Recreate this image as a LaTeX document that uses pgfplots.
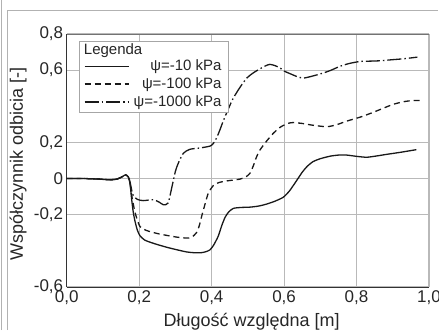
\documentclass[border=0pt]{standalone}
\usepackage{fontspec}
\setmainfont{Liberation Sans}
\usepackage{pgfplots}
\pgfplotsset{compat=1.18}
\newcommand{\lf}{\fontsize{15pt}{17pt}\selectfont}
\newcommand{\tf}{\fontsize{17pt}{20pt}\selectfont}
\newcommand{\af}{\fontsize{18pt}{21pt}\selectfont}
\begin{document}
\begin{tikzpicture}
\useasboundingbox (-66.7pt,-43pt) rectangle (372.3pt,287pt);
\draw[gray!60, line width=1pt] (-64.7pt,-43pt) -- (-64.7pt,287pt);
\draw[gray!60, line width=1pt] (-58.7pt,-43pt) -- (-58.7pt,276pt) -- (371.3pt,276pt);
\begin{axis}[
  scale only axis, width=362.3pt, height=253pt,
  xmin=0, xmax=1, ymin=-0.6, ymax=0.8,
  axis x line*=bottom, axis y line*=left,
  axis line style={line width=1pt, black!80},
  xtick={0,0.2,0.4,0.6,0.8,1},
  xticklabels={{\tf 0,0},{\tf 0,2},{\tf 0,4},{\tf 0,6},{\tf 0,8},{\tf 1,0}},
  ytick={-0.6,-0.2,0,0.2,0.6,0.8},
  yticklabels={{\tf -0,6},{\tf -0,2},{\tf 0},{\tf 0,2},{\tf 0,6},{\tf 0,8}},
  major tick length=0pt,
  grid=major, grid style={gray!55, line width=1.1pt},
  tick label style={font=\tf, text=black!85},
  xlabel={\af Długość względna [m]},
  ylabel={\af Współczynnik odbicia [-]},
  label style={font=\af, text=black!85},
  xlabel style={at={(axis description cs:0.5106,-0.157)}, anchor=base},
  ylabel style={at={(axis description cs:-0.1344,0.486)}, anchor=center},
  legend style={at={(rel axis cs:0.034,0.9735)}, anchor=north west,
    draw=gray!70, line width=0.8pt, fill=white,
    font=\lf, text=black!85,
    inner xsep=4pt, inner ysep=2.5pt, row sep=2.5pt, column sep=2pt,
    nodes={inner xsep=2.5pt, inner ysep=1.5pt}},
  legend cell align=right,
  legend image code/.code={\draw[#1] (0pt,0pt) -- (44pt,0pt);},
]
\draw[black!55, line width=1pt] (rel axis cs:0,1) -- (rel axis cs:1,1);
\addlegendimage{legend image code/.code={\node[anchor=west, inner sep=0pt, text=black!85] at (-1.5pt,0pt) {\makebox[0pt][l]{\lf Legenda}};}}
\addlegendentry{}
\addplot[black!90, line width=1.3pt, smooth, tension=0.4] coordinates {
(0,0) (0.05,0.0) (0.09,-0.003) (0.12,-0.007) (0.14,-0.002) (0.155,0.012) (0.162,0.021) (0.17,0.008)
(0.175,-0.03) (0.179,-0.11) (0.184,-0.19) (0.189,-0.24) (0.195,-0.285) (0.202,-0.316) (0.215,-0.34)
(0.23,-0.352) (0.25,-0.365) (0.276,-0.38) (0.3,-0.392) (0.331,-0.406) (0.35,-0.41) (0.368,-0.411)
(0.382,-0.406) (0.395,-0.395) (0.405,-0.37) (0.418,-0.32) (0.428,-0.26) (0.437,-0.215) (0.447,-0.185)
(0.46,-0.165) (0.48,-0.16) (0.506,-0.158) (0.53,-0.152) (0.552,-0.141) (0.575,-0.125) (0.598,-0.103)
(0.615,-0.068) (0.635,-0.01) (0.65,0.035) (0.665,0.07) (0.681,0.095) (0.7,0.11) (0.727,0.124)
(0.75,0.13) (0.773,0.13) (0.8,0.123) (0.828,0.118) (0.855,0.125) (0.883,0.134) (0.92,0.145) (0.965,0.16)
};
\addlegendentry{\lf ψ=-10 kPa}
\addplot[black!90, line width=1.3pt, dash pattern=on 6pt off 4pt, smooth, tension=0.4] coordinates {
(0,0) (0.05,0.0) (0.09,-0.003) (0.12,-0.007) (0.14,-0.002) (0.155,0.012) (0.162,0.021) (0.17,0.01)
(0.175,-0.03) (0.18,-0.1) (0.189,-0.19) (0.202,-0.265) (0.22,-0.287) (0.248,-0.303) (0.275,-0.314)
(0.304,-0.324) (0.33,-0.329) (0.345,-0.325) (0.359,-0.297) (0.366,-0.26) (0.373,-0.205) (0.382,-0.14)
(0.391,-0.08) (0.405,-0.038) (0.42,-0.022) (0.442,-0.013) (0.478,-0.003) (0.495,0.01) (0.506,0.03)
(0.515,0.07) (0.524,0.12) (0.534,0.16) (0.552,0.208) (0.57,0.25) (0.59,0.285) (0.61,0.305) (0.625,0.31)
(0.65,0.305) (0.68,0.295) (0.718,0.287) (0.745,0.298) (0.773,0.318) (0.81,0.34) (0.84,0.362)
(0.865,0.382) (0.9,0.41) (0.929,0.425) (0.955,0.432) (0.977,0.432)
};
\addlegendentry{\lf ψ=-100 kPa}
\addplot[black!90, line width=1.3pt, dash pattern=on 14pt off 3pt on 1.5pt off 3pt, smooth, tension=0.4] coordinates {
(0,0) (0.05,0.0) (0.09,-0.003) (0.12,-0.007) (0.14,-0.002) (0.155,0.012) (0.162,0.021) (0.17,0.01)
(0.175,-0.02) (0.18,-0.07) (0.184,-0.095) (0.195,-0.115) (0.211,-0.122) (0.239,-0.117) (0.255,-0.13)
(0.267,-0.145) (0.28,-0.135) (0.29,-0.05) (0.3,0.04) (0.308,0.085) (0.322,0.14) (0.34,0.162)
(0.37,0.17) (0.396,0.18) (0.405,0.195) (0.414,0.226) (0.423,0.27) (0.432,0.318) (0.446,0.385)
(0.46,0.446) (0.48,0.51) (0.497,0.556) (0.515,0.585) (0.534,0.608) (0.55,0.625) (0.561,0.632)
(0.575,0.625) (0.589,0.612) (0.6,0.595) (0.616,0.581) (0.635,0.565) (0.653,0.556) (0.68,0.568)
(0.708,0.584) (0.73,0.6) (0.754,0.621) (0.78,0.637) (0.81,0.648) (0.84,0.65) (0.865,0.652)
(0.9,0.658) (0.93,0.663) (0.968,0.672)
};
\addlegendentry{\lf ψ=-1000 kPa}
\end{axis}
\end{tikzpicture}
\end{document}
